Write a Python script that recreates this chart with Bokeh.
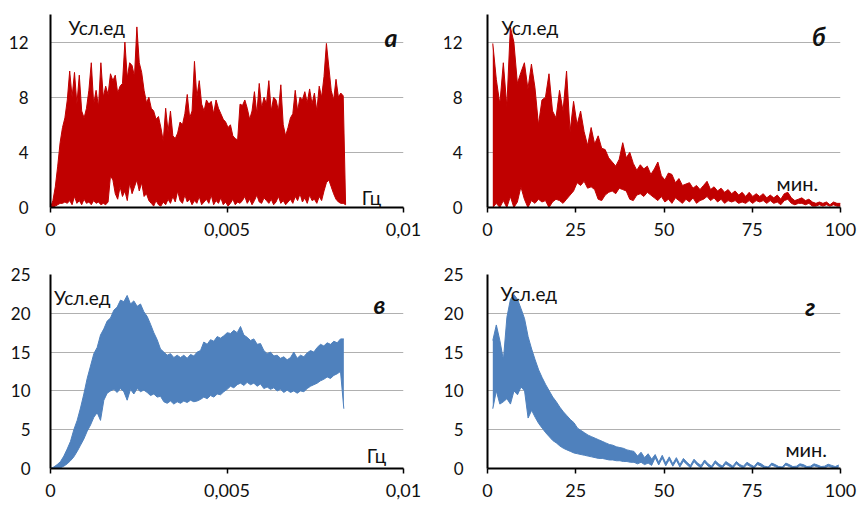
import numpy as np
from bokeh.plotting import figure
from bokeh.layouts import column, row
from bokeh.models import FixedTicker, Label, Range1d
from bokeh.embed import file_html
from bokeh.resources import INLINE

# ---------------- data ----------------
# panel а: spectrum vs frequency (Гц), upper / lower envelope of the dense trace
a_x_start, a_x_end = 0.0, 0.00836
a_hi = [0, 0.5, 1.5, 3.0, 4.7, 5.8, 6.5, 7.8, 9.9, 8.0,
        9.8, 7.5, 9.6, 7.0, 6.5, 7.2, 8.5, 10.5, 7.5, 8.5,
        7.3, 10.5, 8.0, 8.8, 8.2, 9.7, 9.2, 9.6, 8.3, 8.8,
        9.0, 12.0, 9.4, 10.5, 10.3, 9.5, 13.1, 10.5, 9.8, 8.5,
        7.6, 8.0, 7.2, 7.0, 6.4, 6.6, 5.8, 4.8, 7.2, 5.5,
        7.0, 5.2, 5.0, 5.4, 6.2, 6.0, 6.8, 8.2, 6.5, 7.0,
        10.6, 8.0, 9.2, 7.5, 7.0, 7.8, 7.5, 7.7, 6.8, 7.8,
        7.2, 6.8, 6.4, 6.2, 5.8, 6.0, 5.2, 5.0, 4.9, 7.5,
        7.4, 7.8, 7.2, 6.4, 7.0, 8.4, 6.8, 9.0, 7.2, 8.0,
        7.5, 9.2, 7.0, 8.0, 7.8, 7.0, 8.9, 6.0, 5.2, 5.8,
        6.5, 6.8, 8.5, 7.0, 8.0, 7.8, 8.4, 7.6, 8.6, 7.5,
        8.3, 7.0, 8.8, 8.0, 9.5, 11.9, 10.2, 8.5, 7.8, 9.3,
        8.0, 8.3, 8.1, 0.2]
a_lo = [0.0, 0.0, 0.1, 0.2, 0.3, 0.3, 0.4, 0.3,
        0.5, 0.2, 0.8, 0.3, 0.5, 0.2, 0.6, 0.3, 0.4, 0.2, 0.5, 0.3, 0.4, 0.2, 0.3, 0.2, 0.4,
        2.3, 2.0,
        1.0, 0.6, 1.5, 0.8, 1.2, 0.5, 1.8, 1.0,
        1.5, 2.0, 1.2, 1.8, 0.8, 1.0, 0.5,
        0.3, 0.1, 0.5, 0.2, 0.1, 0.4, 0.2, 0.6, 0.3, 0.8, 0.4, 1.2, 0.5, 0.3, 0.9, 0.4, 0.6, 0.2,
        0.5, 0.3, 0.8, 0.2, 0.4, 0.6, 0.3, 0.9, 0.2, 0.5, 0.3, 0.7, 0.2, 0.4, 0.1, 0.3, 0.6, 0.2, 0.4, 0.3,
        0.5, 0.8, 0.3, 0.6, 0.2, 0.5, 0.9, 0.4, 0.3, 0.7, 0.5, 0.3, 0.6, 0.2, 0.4, 0.8, 0.3, 0.5, 0.2, 0.4,
        0.6, 0.3, 0.8, 0.5, 1.0, 0.4, 0.7, 0.3, 0.9, 0.5, 0.6, 0.3, 0.8, 0.5, 1.2, 1.8, 2.0, 1.5, 1.0, 0.6,
        0.4, 0.3, 0.3, 0.2]

# panel б: spectrum vs period (мин.)
b_x_start, b_x_end = 1.5, 100.0
b_hi = [11.9, 9.3, 7.5, 10.5, 7.3, 13.1, 12.0, 9.0, 9.8, 10.5,
        8.6, 10.4, 8.7, 6.0, 7.8, 8.0, 9.7, 7.0, 6.5, 8.5,
        7.0, 9.9, 5.5, 7.7, 6.0, 7.0, 5.5, 4.5, 5.8, 4.6,
        5.2, 4.3, 4.2, 3.6, 3.3, 3.0, 3.5, 4.7, 3.6, 4.0,
        3.2, 2.7, 3.1, 2.8, 3.0, 2.4, 2.8, 3.3, 2.3, 2.0,
        2.5, 2.4, 1.8, 2.1, 1.6, 1.7, 1.8, 1.4, 1.6, 1.3,
        1.6, 1.9, 1.3, 1.5, 1.2, 1.4, 1.1, 1.3, 1.0, 1.2,
        0.9, 1.1, 0.8, 1.1, 0.8, 1.0, 0.8, 1.0, 0.7, 0.9,
        0.7, 0.9, 0.6, 1.0, 1.1, 0.7, 0.5, 0.6, 0.7, 0.5,
        0.6, 0.4, 0.3, 0.4, 0.3, 0.4, 0.2, 0.4, 0.3, 0.3]
b_lo = [0.0, 0.3, 0.0, 0.5, 0.0, 0.8, 0.0, 0.4, 1.5, 0.6, 0.0,
        0.5, 0.3, 0.6, 0.4, 0.5, 0.0, 0.4, 0.6, 0.5, 0.3, 0.6, 0.9,
        1.2, 1.8, 1.6, 1.9, 1.4, 1.5, 1.3, 0.6, 0.5, 0.9,
        1.1, 1.2, 1.0, 1.4, 1.3, 1.2, 0.6, 0.5, 0.9, 1.0,
        0.8, 1.1, 0.9, 0.7, 0.5, 0.8, 0.4, 0.6, 0.3, 0.7,
        0.5, 0.3, 0.6, 0.4, 0.7, 0.3, 0.5,
        0.6, 0.8, 0.5, 0.7, 0.4, 0.6, 0.3, 0.5, 0.4, 0.5,
        0.3, 0.4, 0.3, 0.5, 0.3, 0.5, 0.4, 0.5, 0.3, 0.5,
        0.3, 0.4, 0.2, 0.5, 0.6, 0.3, 0.2, 0.3, 0.3, 0.2,
        0.3, 0.1, 0.1, 0.2, 0.1, 0.2, 0.1, 0.2, 0.1, 0.1]

# panel в: spectrum vs frequency (Гц)
c_x_start, c_x_end = 0.0, 0.00831
c_hi = [0, 0.2, 0.5, 0.9, 1.6, 2.5, 3.5, 5.0, 6.2, 7.8,
        9.6, 11.6, 13.2, 14.8, 15.6, 17.2, 18.0, 19.0, 19.4, 20.4,
        20.8, 21.7, 21.5, 22.3, 21.2, 21.6, 20.9, 21.2, 20.2, 19.6,
        18.6, 17.5, 16.6, 15.4, 15.0, 14.6, 14.8, 14.3, 14.6, 14.3,
        14.6, 14.2, 14.7, 14.5,
        15.0, 15.2, 16.3, 16.0, 16.6, 16.4, 17.0, 16.8, 17.1, 17.5,
        17.4, 17.8, 17.5, 18.3, 17.2, 16.9, 16.5, 16.7, 16.0, 16.1,
        15.2, 14.8, 15.0, 14.5, 14.6, 14.2, 14.4, 14.0, 14.3, 15.0,
        14.2, 14.6, 14.4, 14.9, 15.2, 15.0, 15.6, 16.0, 15.8, 16.2,
        16.0, 16.4, 16.2, 16.7, 16.7]
c_lo = [0, 0, 0, 0.1, 0.3, 0.6, 1.0, 1.5, 2.2, 3.0,
        3.8, 4.8, 5.6, 6.6, 7.2, 6.2, 8.8, 9.7, 10.0, 10.2,
        9.8, 10.3, 9.9, 8.8, 10.2, 9.6, 10.3, 9.9, 10.1, 9.8,
        9.4, 9.6, 9.2, 9.3, 8.6, 8.4, 8.7, 8.3, 8.6, 8.4,
        8.7, 8.5, 8.8, 8.6,
        8.7, 8.9, 9.2, 9.0, 9.4, 9.2, 9.6, 9.5, 9.9, 10.2,
        10.6, 10.4, 10.8, 11.0, 10.7, 11.1, 10.8, 11.0, 10.6, 10.9,
        10.3, 10.5, 10.2, 10.4, 10.0, 10.2, 9.8, 10.1, 9.8, 10.0,
        9.7, 10.0, 9.9, 10.3, 10.6, 10.8, 11.0, 11.3, 11.5, 11.8,
        11.6, 12.0, 12.2, 12.5, 7.7]

# panel г: spectrum vs period (мин.)
d_x_start, d_x_end = 1.5, 99.5
d_hi = [16.5, 18.5, 16.5, 14.0, 19.5, 21.8, 22.4, 21.8, 20.6, 19.3,
        17.0, 15.4, 14.0, 12.7, 11.7, 10.8, 10.0, 9.2, 8.6, 7.9,
        7.3, 6.8, 6.3, 5.9, 5.2, 4.9, 4.6, 4.3, 4.1, 3.9,
        3.7, 3.5, 3.3, 3.1, 3.0, 2.8, 2.7, 2.6, 2.4, 2.3,
        2.2, 1.6, 2.1, 1.4, 1.9, 1.2, 1.8, 0.8, 1.7, 0.7,
        1.5, 0.6, 1.4, 0.5, 1.3, 0.8, 0.4, 1.2, 0.7, 0.4,
        1.1, 0.6, 0.3, 1.0, 0.6, 0.3, 0.9, 0.6, 0.3, 0.9,
        0.5, 0.3, 0.8, 0.5, 0.25, 0.8, 0.6, 0.3, 0.2, 0.7,
        0.5, 0.25, 0.2, 0.7, 0.5, 0.25, 0.3, 0.6, 0.5, 0.25,
        0.3, 0.6, 0.45, 0.25, 0.3, 0.55, 0.4, 0.25, 0.45]
d_lo = [7.7, 10.0, 8.3, 8.6, 9.0, 8.3, 10.0, 9.5, 10.5, 10.0,
        6.5, 7.5, 6.6, 5.8, 5.2, 4.6, 4.1, 3.6, 3.3, 2.9,
        2.6, 2.4, 2.2, 2.0, 1.9, 1.8, 1.7, 1.6, 1.5, 1.4,
        1.3, 1.3, 1.2, 1.1, 1.1, 1.0, 1.0, 0.9, 0.9, 0.8,
        0.8, 0.6, 0.8, 0.5, 0.7, 0.4, 1.4, 0.45, 1.35, 0.35,
        1.15, 0.3, 1.05, 0.2, 0.95, 0.5, 0.1, 0.9, 0.4, 0.1,
        0.8, 0.3, 0.05, 0.7, 0.3, 0.05, 0.6, 0.3, 0.05, 0.6,
        0.25, 0.05, 0.5, 0.25, 0.03, 0.5, 0.3, 0.05, 0.03, 0.45,
        0.25, 0.03, 0.03, 0.45, 0.25, 0.03, 0.05, 0.35, 0.25, 0.03,
        0.05, 0.35, 0.2, 0.03, 0.05, 0.3, 0.15, 0.03, 0.2]

freq_ticks = [0, 0.005, 0.01]
freq_labels = ["0", "0,005", "0,01"]
period_ticks = [0, 25, 50, 75, 100]
period_labels = ["0", "25", "50", "75", "100"]
top_y_ticks = [0, 4, 8, 12]
bottom_y_ticks = [0, 5, 10, 15, 20, 25]

RED = "#C00000"
BLUE = "#4F81BD"
FONT = "Lato"


def panel(w, h, borders, xr, yr, xticks, xlabels, yticks, color,
          x0, x1, hi, lo, y_standoff, texts):
    bl, br, bt, bb = borders
    p = figure(width=w, height=h, x_range=Range1d(*xr), y_range=Range1d(*yr),
               output_backend="svg", toolbar_location=None,
               min_border_left=bl, min_border_right=br,
               min_border_top=bt, min_border_bottom=bb)
    p.outline_line_color = None
    p.background_fill_color = "white"
    p.border_fill_color = "white"
    p.xgrid.visible = False
    p.ygrid.grid_line_color = "#b0b0b0"
    p.ygrid.grid_line_width = 1
    p.ygrid.ticker = FixedTicker(ticks=yticks)

    p.xaxis.ticker = FixedTicker(ticks=xticks)
    p.xaxis.major_label_overrides = {t: l for t, l in zip(xticks, xlabels)}
    p.yaxis.ticker = FixedTicker(ticks=yticks)
    for ax in (p.xaxis, p.yaxis):
        ax.axis_line_color = "black"
        ax.axis_line_width = 2
        ax.minor_tick_line_color = None
        ax.major_label_text_font = FONT
        ax.major_label_text_color = "#111111"
    p.xaxis.major_tick_line_color = "black"
    p.xaxis.major_tick_line_width = 1.5
    p.xaxis.major_tick_in = 0
    p.xaxis.major_tick_out = 5
    p.xaxis.major_label_standoff = 10
    p.xaxis.major_label_text_font_size = "18px"
    p.yaxis.major_tick_line_color = None
    p.yaxis.major_tick_in = 0
    p.yaxis.major_tick_out = 0
    p.yaxis.major_label_standoff = y_standoff
    p.yaxis.major_label_text_font_size = "17px"

    n = min(len(hi), len(lo))
    xs = np.linspace(x0, x1, n)
    p.varea(x=xs, y1=np.array(lo[:n]), y2=np.array(hi[:n]),
            fill_color=color, fill_alpha=1.0)
    p.line(xs, np.array(hi[:n]), line_color=color, line_width=1)
    p.line(xs, np.array(lo[:n]), line_color=color, line_width=1)

    for (tx, ty, txt, align, size, style) in texts:
        p.add_layout(Label(x=tx, y=ty, text=txt, text_align=align,
                           text_baseline="alphabetic", text_font=FONT,
                           text_font_size=size, text_font_style=style,
                           text_color="#111111"))
    return p


pa = panel(428, 250, (50, 25, 14, 43), (0, 0.01), (0, 14),
           freq_ticks, freq_labels, top_y_ticks, RED,
           a_x_start, a_x_end, a_hi, a_lo, 22,
           [(0.00051, 13.05, "Усл.ед", "left", "19px", "normal"),
            (0.00983, 12.35, "а", "right", "25px", "bold italic"),
            (0.00882, 0.75, "Гц", "left", "19px", "normal")])

pb = panel(429, 250, (59, 17, 14, 43), (0, 100), (0, 14),
           period_ticks, period_labels, top_y_ticks, RED,
           b_x_start, b_x_end, b_hi, b_lo, 25,
           [(4.0, 13.05, "Усл.ед", "left", "19px", "normal"),
            (95.8, 12.45, "б", "right", "25px", "bold italic"),
            (81.9, 1.8, "мин.", "left", "20px", "normal")])

pc = panel(428, 256, (50, 25, 24, 38), (0, 0.01), (0, 25),
           freq_ticks, freq_labels, bottom_y_ticks, BLUE,
           c_x_start, c_x_end, c_hi, c_lo, 20,
           [(0.0001, 22.1, "Усл.ед", "left", "19px", "normal"),
            (0.00949, 21.25, "в", "right", "25px", "bold italic"),
            (0.00896, 1.7, "Гц", "left", "19px", "normal")])

pd_ = panel(429, 256, (59, 17, 24, 38), (0, 100), (0, 25),
            period_ticks, period_labels, bottom_y_ticks, BLUE,
            d_x_start, d_x_end, d_hi, d_lo, 24,
            [(3.7, 22.5, "Усл.ед", "left", "19px", "normal"),
             (92.9, 21.0, "г", "right", "25px", "bold italic"),
             (84.4, 2.45, "мин.", "left", "20px", "normal")])

layout = column(row(pa, pb, spacing=0), row(pc, pd_, spacing=0), spacing=0)

open("out.html", "w").write(file_html(layout, INLINE))
